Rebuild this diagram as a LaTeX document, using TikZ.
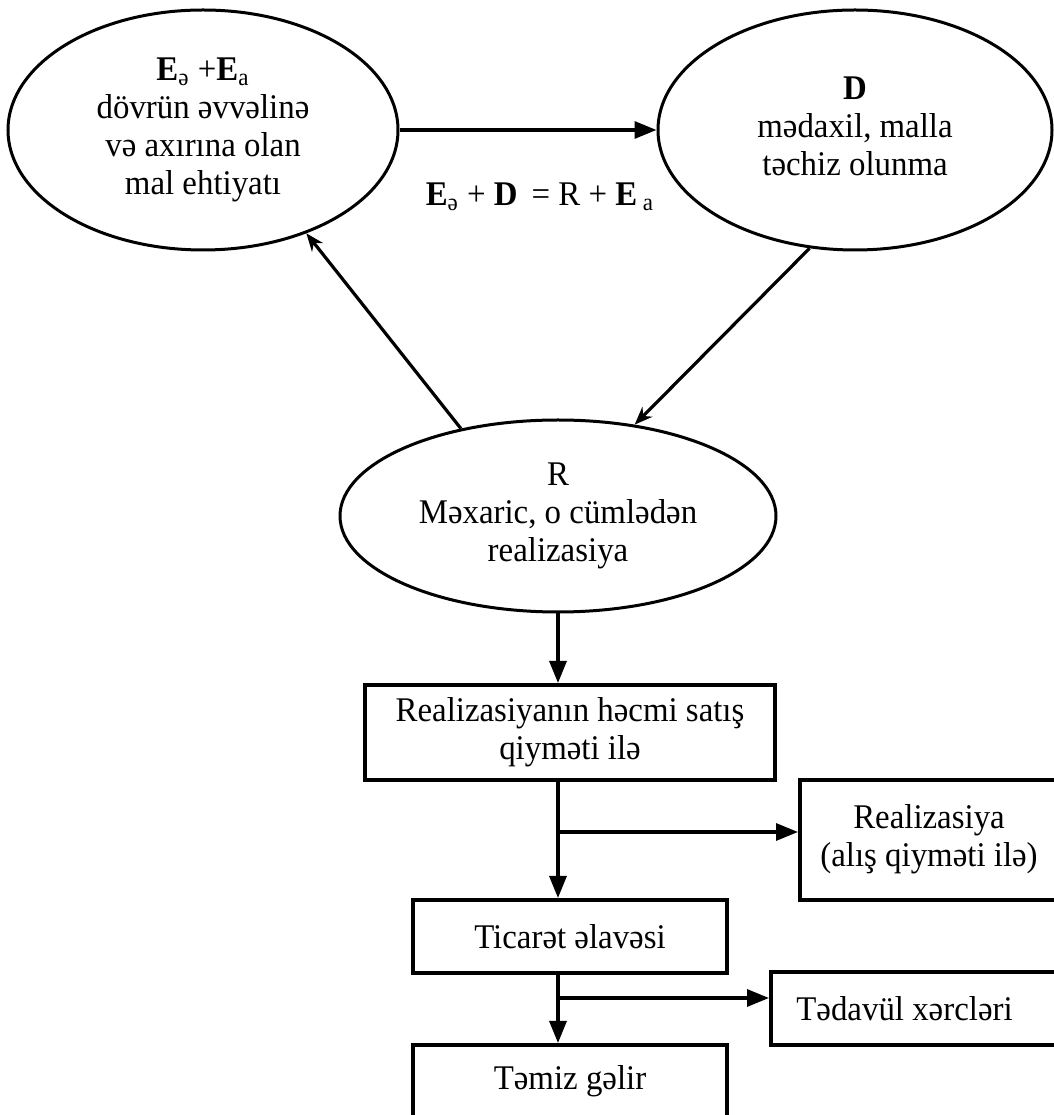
\documentclass[tikz,border=0pt]{standalone}
\usepackage{fontspec}
\setmainfont[FakeStretch=0.95]{Liberation Serif}
\usetikzlibrary{arrows.meta,shapes.geometric}
\begin{document}
\begin{tikzpicture}[x=0.5pt,y=0.5pt,
  every node/.style={font=\fontsize{17.3}{19}\selectfont},
  ell/.style={draw, ellipse, line width=1.5pt, inner sep=0pt, align=center},
  box/.style={draw, rectangle, line width=2pt, inner sep=0pt, align=center},
  arr/.style={line width=1.6pt, -{Triangle[length=11pt,width=8.5pt]}},
  darr/.style={line width=1.6pt, -{Stealth[length=9pt,width=7pt]}}]
\useasboundingbox (0,0) rectangle (1054,1115);
\fill[white] (0,0) rectangle (1054,1115);

% ellipses
\node[ell, minimum width=195pt, minimum height=120pt] (L) at (203,985)
  {\raisebox{-2pt}{\begin{tabular}{@{}c@{}}{\bfseries E}\textsubscript{ə} +{\bfseries E}\textsubscript{a}\\ dövrün əvvəlinə\\ və axırına olan\\ mal ehtiyatı\end{tabular}}};
\node[ell, minimum width=197pt, minimum height=120pt] (D) at (855,985)
  {\raisebox{7pt}{\begin{tabular}{@{}c@{}}{\bfseries D}\\ mədaxil, malla\\ təchiz olunma\end{tabular}}};
\node[ell, minimum width=218pt, minimum height=96pt] (R) at (558,599)
  {\begin{tabular}{@{}c@{}}R\\ Məxaric, o cümlədən\\ realizasiya\end{tabular}};

% equation
\node (eq) at (540,918) {{\bfseries E}\textsubscript{ə} + {\bfseries D} \,= R + {\bfseries E}\,\textsubscript{a}};

% boxes
\node[box, minimum width=205pt, minimum height=47.5pt] (b1) at (570,382.5)
  {\raisebox{-4pt}{\begin{tabular}{@{}c@{}}Realizasiyanın həcmi satış\\ qiyməti ilə\end{tabular}}};
\node[box, minimum width=129pt, minimum height=60pt] (b2) at (929,275)
  {\raisebox{4pt}{\begin{tabular}{@{}c@{}}Realizasiya\\ (alış qiyməti ilə)\end{tabular}}};
\node[box, minimum width=157pt, minimum height=36.5pt] (b3) at (570,178.5) {Ticarət əlavəsi};
\node[box, minimum width=143.5pt, minimum height=36.5pt] (b4) at (914.5,106.5) {\hspace*{-10pt}Tədavül xərcləri};
\node[box, minimum width=157pt, minimum height=36.5pt] (b5) at (570,33.5) {Təmiz gəlir};

% branch points
\coordinate (j1) at (558,283);
\coordinate (j2) at (558,117);

% connectors
\draw[arr] (L.east) -- (D.west);
\draw[darr] (R.138.1) -- (L.-45.3);
\draw[darr] (D.-111.4) -- (R.50.3);
\draw[arr] (R.south) -- (R.south |- b1.north);
\draw[arr] (R.south |- b1.south) -- (R.south |- b3.north);
\draw[arr] (j1) -- (j1 -| b2.west);
\draw[arr] (R.south |- b3.south) -- (R.south |- b5.north);
\draw[arr] (j2) -- (j2 -| b4.west);
\end{tikzpicture}
\end{document}
